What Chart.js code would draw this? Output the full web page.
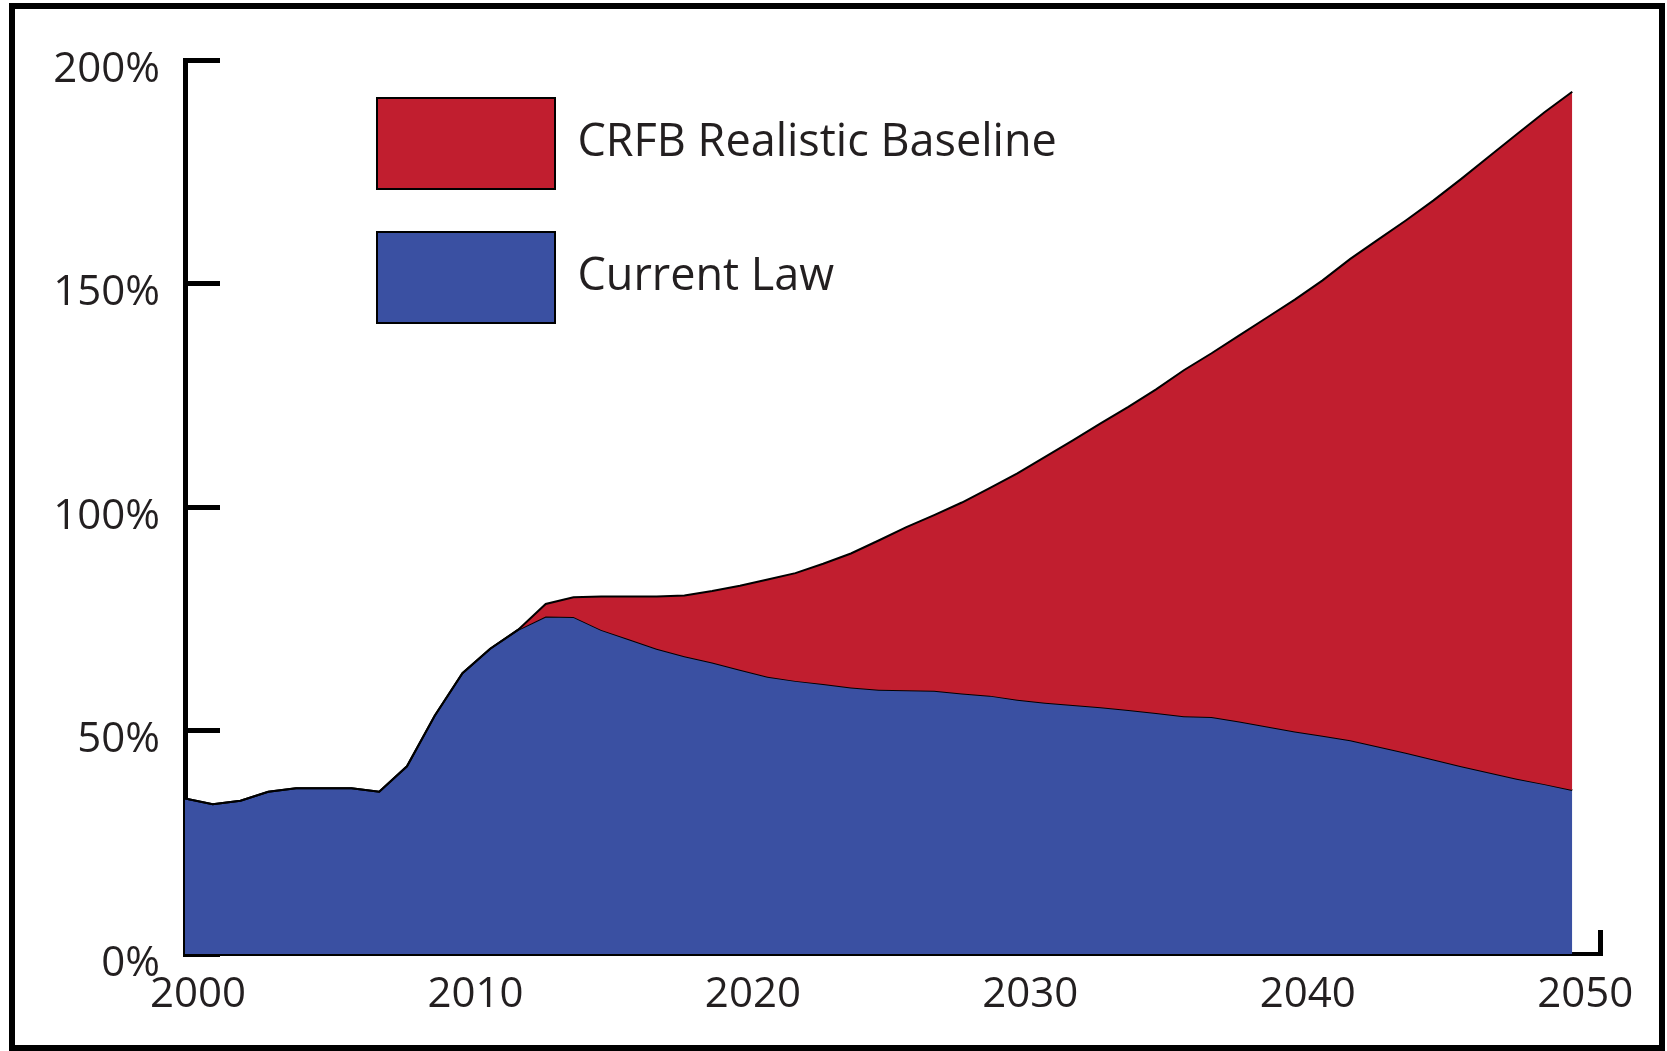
<!DOCTYPE html>
<html>
<head>
<meta charset="utf-8">
<title>CRFB Realistic Baseline vs Current Law</title>
<script src="https://cdn.jsdelivr.net/npm/chart.js@4.4.1/dist/chart.umd.min.js"></script>
<style>
    html, body { margin: 0; padding: 0; background: #fff; }
    #wrap { position: relative; width: 1667px; height: 1051px; overflow: hidden; }
    #frame {
        position: absolute; left: 9px; top: 3px; width: 1656px; height: 1048px;
        box-sizing: border-box; border: 6px solid #000; pointer-events: none;
    }
</style>
</head>
<body>
<div id="wrap">
    <canvas id="debtChart" width="1667" height="1051"></canvas>
    <div id="frame"></div>
</div>
<script>
    'use strict';

    const years = [
        2000, 2001, 2002, 2003, 2004, 2005, 2006, 2007, 2008, 2009,
        2010, 2011, 2012, 2013, 2014, 2015, 2016, 2017, 2018, 2019,
        2020, 2021, 2022, 2023, 2024, 2025, 2026, 2027, 2028, 2029,
        2030, 2031, 2032, 2033, 2034, 2035, 2036, 2037, 2038, 2039,
        2040, 2041, 2042, 2043, 2044, 2045, 2046, 2047, 2048, 2049,
        2050
    ];

    // debt held by the public, % of GDP
    const currentLaw = [
        34.8, 33.5, 34.3, 36.3, 37.1, 37.1, 37.1, 36.3, 42.0, 53.3,
        62.8, 68.3, 72.5, 75.5, 75.4, 72.5, 70.4, 68.3, 66.6, 65.2,
        63.6, 62.0, 61.1, 60.4, 59.6, 59.1, 59.0, 58.9, 58.3, 57.8,
        56.9, 56.2, 55.7, 55.2, 54.6, 53.9, 53.2, 53.0, 52.0, 50.9,
        49.8, 48.8, 47.8, 46.4, 45.0, 43.5, 42.0, 40.6, 39.2, 38.0,
        36.7
    ];

    const realisticBaseline = [
        34.8, 33.5, 34.3, 36.3, 37.1, 37.1, 37.1, 36.3, 42.0, 53.3,
        62.8, 68.3, 72.5, 78.3, 79.8, 80.0, 80.0, 80.0, 80.2, 81.2,
        82.4, 83.8, 85.2, 87.3, 89.6, 92.5, 95.5, 98.2, 101.0, 104.2,
        107.5, 111.2, 114.9, 118.7, 122.4, 126.3, 130.6, 134.4, 138.4, 142.4,
        146.4, 150.7, 155.5, 159.8, 164.1, 168.6, 173.4, 178.4, 183.4, 188.3,
        192.9
    ];

    const seriesNames = ['CRFB Realistic Baseline', 'Current Law'];
    const xTickYears = [2000, 2010, 2020, 2030, 2040, 2050];
    const xAxisEnd = 2051;
    const yTickValues = [0, 50, 100, 150, 200];

    const RED = 'rgb(193, 30, 47)';
    const BLUE = 'rgb(58, 80, 162)';
    const INK = '#231f20';
    const FONT = '"Open Sans", "Noto Sans", sans-serif';

    function toPoints(values) {
        return years.map((yr, i) => ({ x: yr, y: values[i] }));
    }

    // legend sits inside the plot, next to the y axis
    const legendInPlot = {
        id: 'legendInPlot',
        afterLayout(chart) {
            const area = chart.chartArea;
            chart.legend.left = area.left + 149;
            chart.legend.top = area.top - 5;
        }
    };

    const ctx = document.getElementById('debtChart').getContext('2d');
    new Chart(ctx, {
        type: 'line',
        data: {
            datasets: [{
                label: seriesNames[0],
                data: toPoints(realisticBaseline),
                backgroundColor: RED,
                borderColor: '#000',
                borderWidth: 2,
                fill: '+1'
            }, {
                label: seriesNames[1],
                data: toPoints(currentLaw),
                backgroundColor: BLUE,
                borderColor: '#000',
                borderWidth: 2,
                fill: 'origin'
            }]
        },
        options: {
            responsive: false,
            devicePixelRatio: 1,
            animation: false,
            elements: {
                point: { radius: 0, hoverRadius: 0 },
                line: { tension: 0 }
            },
            layout: {
                padding: { left: 0, top: 60, right: 67, bottom: 0 }
            },
            plugins: {
                tooltip: { enabled: false },
                legend: {
                    position: 'chartArea',
                    align: 'start',
                    labels: {
                        boxWidth: 178,
                        boxHeight: 91,
                        padding: 43,
                        color: INK,
                        font: { family: FONT, size: 45 }
                    }
                }
            },
            scales: {
                x: {
                    type: 'linear',
                    min: years[0],
                    max: xAxisEnd,
                    afterFit(scale) { scale.height = 97; },
                    afterBuildTicks(scale) {
                        scale.ticks = xTickYears.concat([xAxisEnd]).map(v => ({ value: v }));
                    },
                    grid: {
                        display: true,
                        drawOnChartArea: false,
                        drawTicks: true,
                        tickLength: -24,
                        tickWidth: 5,
                        tickColor: c => (c.tick && c.tick.value === xAxisEnd) ? '#000' : 'rgba(0,0,0,0)'
                    },
                    border: { display: true, color: '#000', width: 4 },
                    ticks: {
                        autoSkip: false,
                        maxRotation: 0,
                        padding: 40,
                        labelOffset: 13,
                        color: INK,
                        font: { family: FONT, size: 42 },
                        callback: v => xTickYears.includes(v) ? String(v) : ''
                    }
                },
                y: {
                    min: 0,
                    max: 200,
                    afterFit(scale) {
                        scale.width = 185;
                        scale.paddingTop = 0;
                        scale.paddingBottom = 0;
                    },
                    afterBuildTicks(scale) {
                        scale.ticks = yTickValues.map(v => ({ value: v }));
                    },
                    grid: {
                        display: true,
                        drawOnChartArea: false,
                        drawTicks: true,
                        tickLength: -35,
                        tickWidth: 5,
                        tickColor: '#000'
                    },
                    border: { display: true, color: '#000', width: 5 },
                    ticks: {
                        padding: 60,
                        labelOffset: 10,
                        color: INK,
                        font: { family: FONT, size: 42 },
                        callback: v => v + '%'
                    }
                }
            }
        },
        plugins: [legendInPlot]
    });
</script>
</body>
</html>
